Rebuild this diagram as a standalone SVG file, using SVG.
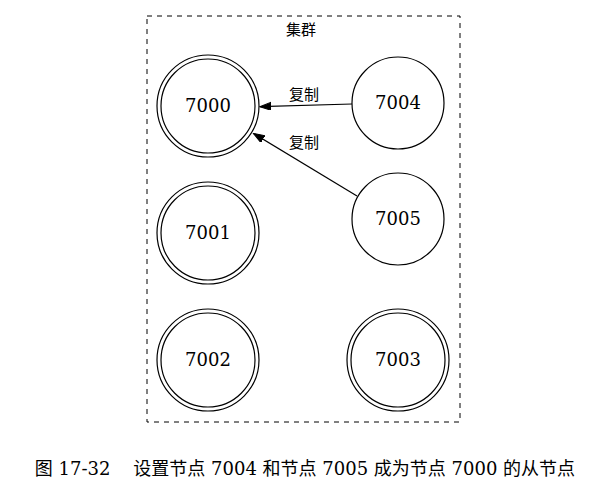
<svg xmlns="http://www.w3.org/2000/svg" width="607" height="491" viewBox="0 0 607 491">
<defs>
<style>
.bg{fill:#fff}
.cluster{fill:none;stroke:#000;stroke-width:1;stroke-dasharray:5,5}
.node{fill:none;stroke:#000;stroke-width:1.2}
.lbl{font-family:"DejaVu Serif","Liberation Serif","Noto Sans CJK SC",serif;font-size:18px;fill:#000;text-anchor:middle}
.cjk{font-family:"Noto Sans CJK SC",sans-serif;font-size:15px;fill:#000;text-anchor:middle}
.edge{fill:none;stroke:#000;stroke-width:1.2}
.cap{font-family:"DejaVu Serif","Liberation Serif","Noto Sans CJK SC",serif;font-size:18px;fill:#000;text-anchor:middle;white-space:pre}
</style>
<marker id="ah" markerUnits="userSpaceOnUse" markerWidth="12" markerHeight="9" refX="11" refY="4" orient="auto">
<path d="M0,0 L11,4 L0,8 z" fill="#000" stroke="#000" stroke-width="1"/>
</marker>
</defs>
<rect class="bg" x="0" y="0" width="607" height="491"/>
<g id="cluster">
<rect class="cluster" x="147" y="16" width="313" height="406"/>
<text class="cjk" x="301" y="35">集群</text>
</g>
<g id="edges">
<line class="edge" x1="352" y1="104" x2="260" y2="106.7" marker-end="url(#ah)"/>
<text class="cjk" x="304" y="100">复制</text>
<line class="edge" x1="357" y1="196" x2="253.5" y2="133.5" marker-end="url(#ah)"/>
<text class="cjk" x="304" y="148">复制</text>
</g>
<g id="n7000">
<circle class="node" cx="208" cy="106" r="51"/>
<circle class="node" cx="208" cy="106" r="47"/>
<text class="lbl" x="208" y="112">7000</text>
</g>
<g id="n7001">
<circle class="node" cx="208" cy="233" r="51"/>
<circle class="node" cx="208" cy="233" r="47"/>
<text class="lbl" x="208" y="239">7001</text>
</g>
<g id="n7002">
<circle class="node" cx="208" cy="360" r="51"/>
<circle class="node" cx="208" cy="360" r="47"/>
<text class="lbl" x="208" y="366">7002</text>
</g>
<g id="n7003">
<circle class="node" cx="398" cy="360" r="51"/>
<circle class="node" cx="398" cy="360" r="47"/>
<text class="lbl" x="398" y="366">7003</text>
</g>
<g id="n7004">
<circle class="node" cx="398" cy="103" r="46"/>
<text class="lbl" x="398" y="109">7004</text>
</g>
<g id="n7005">
<circle class="node" cx="398" cy="219" r="46"/>
<text class="lbl" x="398" y="225">7005</text>
</g>
<g id="caption">
<text class="cap" x="305" y="475" xml:space="preserve">图 17-32    设置节点 7004 和节点 7005 成为节点 7000 的从节点</text>
</g>
</svg>
